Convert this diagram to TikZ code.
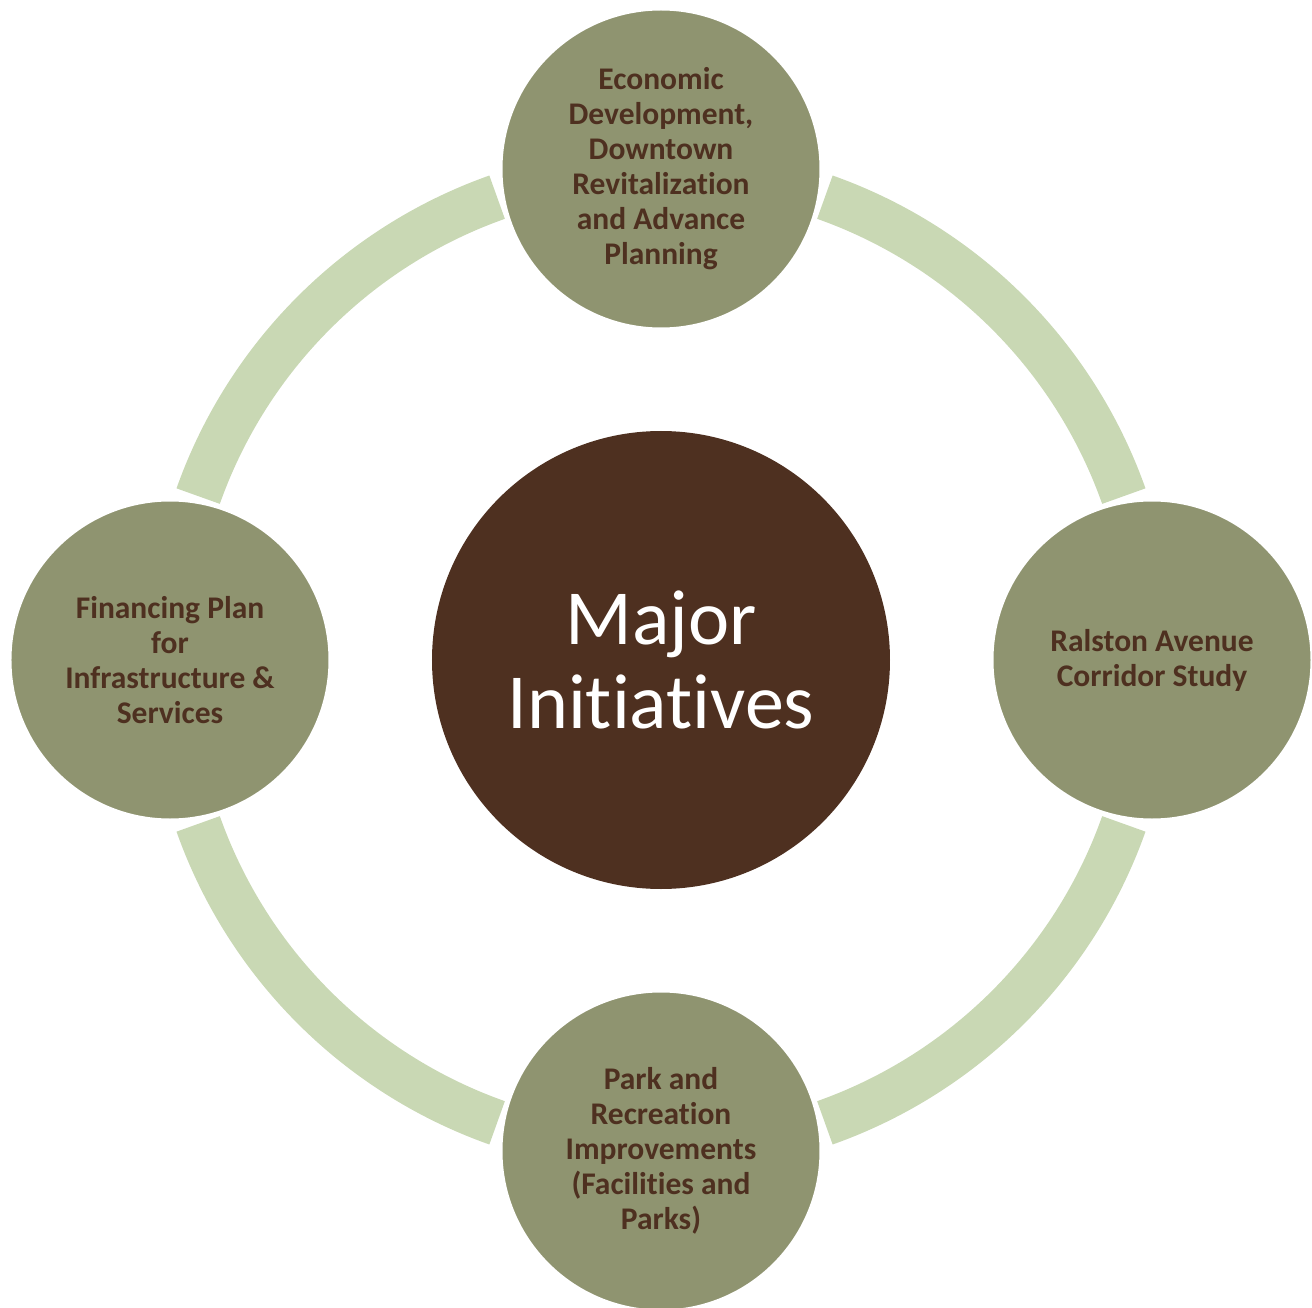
\documentclass[tikz,border=0pt]{standalone}
\usepackage{fontspec}
\setmainfont[Ligatures={NoCommon}]{Carlito}
\usepackage{xcolor}

\definecolor{olive}{HTML}{8F9470}
\definecolor{bark}{HTML}{4E3020}
\definecolor{sage}{HTML}{C9D8B4}

\begin{document}
\begin{tikzpicture}[x=1pt,y=1pt,
    ring/.style={draw=sage,line width=46pt},
    petal/.style={circle,fill=olive,draw=white,line width=3pt,minimum size=320pt,inner sep=0pt,
                  align=center,text=bark,font=\fontsize{31.5}{35}\selectfont\bfseries},
    hub/.style={circle,fill=bark,minimum size=458pt,inner sep=0pt,
                align=center,text=white,font=\fontsize{78}{84}\selectfont}]
    \useasboundingbox (-661,-647) rectangle (651,660);

    % Ring between the outer circles
    \draw[ring] (19.5:491) arc (19.5:70.5:491);
    \draw[ring] (109.5:491) arc (109.5:160.5:491);
    \draw[ring] (199.5:491) arc (199.5:250.5:491);
    \draw[ring] (289.5:491) arc (289.5:340.5:491);

    % Centre
    \node[hub] (major) at (0,0) {Major\\Initiatives};

    % Outer circles
    \node[petal] (econ) at (90:491) {Economic\\Development,\\Downtown\\Revitalization\\and Advance\\Planning};
    \node[petal] (ralston) at (0:491) {Ralston Avenue\\Corridor Study};
    \node[petal] (parks) at (270:491) {Park and\\Recreation\\Improvements\\(Facilities and\\Parks)};
    \node[petal] (finance) at (180:491) {Financing Plan\\for\\Infrastructure \&\\Services};
\end{tikzpicture}
\end{document}
